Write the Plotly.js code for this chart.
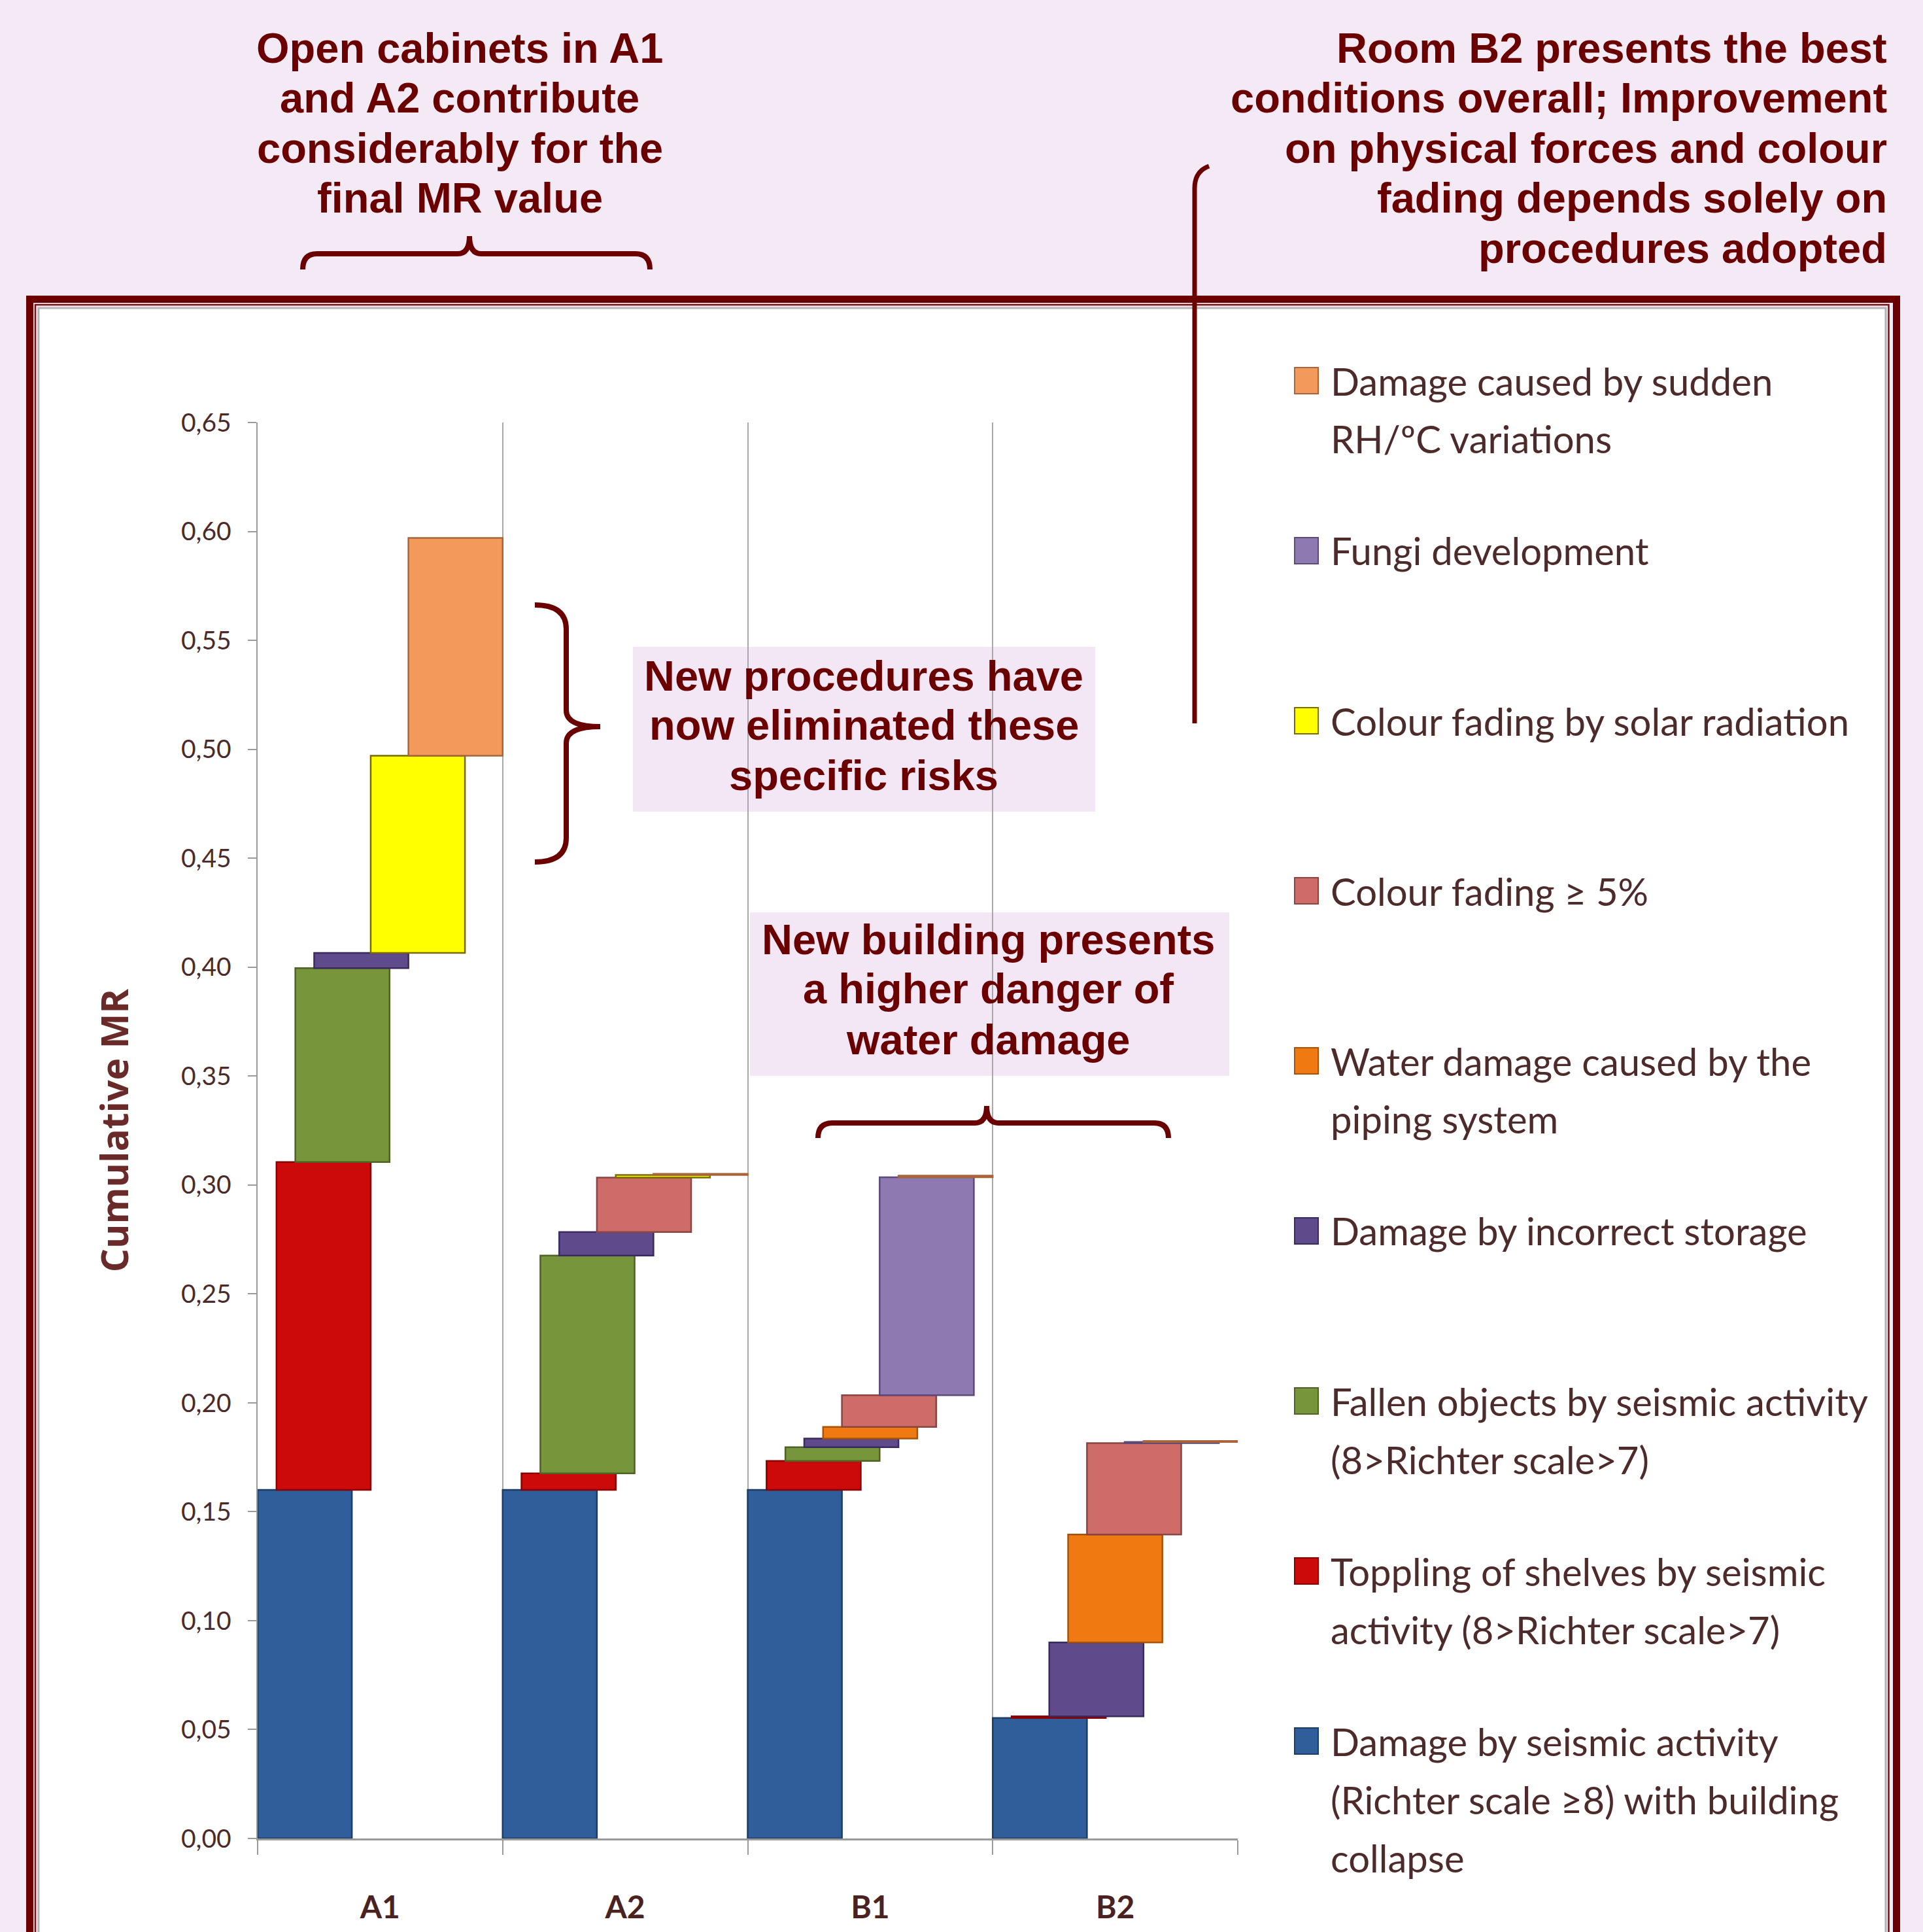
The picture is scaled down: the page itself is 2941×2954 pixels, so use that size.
<!DOCTYPE html>
<html>
<head>
<meta charset="utf-8">
<script src="https://cdn.plot.ly/plotly-3.0.1.min.js"></script>
<style>
html,body{margin:0;padding:0;background:#f4eaf5;}
#chart{width:2941px;height:2954px;}
</style>
</head>
<body>
<div id="chart"></div>
<script>
// ---------------- DATA ----------------
const categories = ['A1', 'A2', 'B1', 'B2'];

// increments of MR per risk, stacked in this order (bottom to top)
const seismicCollapse  = [0.1600, 0.1600, 0.1600, 0.0553];
const topplingShelves  = [0.1505, 0.0076, 0.0133, 0.0008];
const fallenObjects    = [0.0890, 0.1000, 0.0063, 0.0000];
const incorrectStorage = [0.0070, 0.0108, 0.0040, 0.0339];
const waterPiping      = [0.0000, 0.0000, 0.0053, 0.0495];
const colourFading5    = [0.0000, 0.0250, 0.0146, 0.0420];
const solarFading      = [0.0905, 0.0012, 0.0000, 0.0000];
const fungiDevelopment = [0.0000, 0.0000, 0.1000, 0.0005];
const rhVariations     = [0.1000, 0.0005, 0.0008, 0.0005];

const seriesNames = [
  'Damage by seismic activity<br>(Richter scale ≥8) with building<br>collapse',
  'Toppling of shelves by seismic<br>activity (8>Richter scale>7)',
  'Fallen objects by seismic activity<br>(8>Richter scale>7)',
  'Damage by incorrect storage',
  'Water damage caused by the<br>piping system',
  'Colour fading ≥ 5%',
  'Colour fading by solar radiation',
  'Fungi development',
  'Damage caused by sudden<br>RH/ºC variations'
];
const seriesValues = [seismicCollapse, topplingShelves, fallenObjects, incorrectStorage,
  waterPiping, colourFading5, solarFading, fungiDevelopment, rhVariations];

const yTitle = 'Cumulative MR';
const noteOpenCabinets = ['Open cabinets in A1', 'and A2 contribute', 'considerably for the', 'final MR value'];
const noteRoomB2 = ['Room B2 presents the best', 'conditions overall; Improvement',
  'on physical forces and colour', 'fading depends solely on', 'procedures adopted'];
const noteNewProcedures = ['New procedures have', 'now eliminated these', 'specific risks'];
const noteNewBuilding = ['New building presents', 'a higher danger of', 'water damage'];

// ---------------- STYLE ----------------
const fills = ['#2f5e9b', '#cc0a0a', '#77953b', '#5f4a8c', '#f07a12', '#cd6c69', '#ffff00', '#8e79b1', '#f29a5c'];
const edges = ['#1d3d66', '#8a0000', '#4d6224', '#3a2b5e', '#a65208', '#8a4442', '#7a6a00', '#5c4b7a', '#a8653a'];

const BODY = 'Lato, "Open Sans", sans-serif';
const NOTE = '"Liberation Sans", Arial, sans-serif';
const DARKRED = '#6b0000';
const W = 2941, H = 2954;
const plotL = 394, plotR = 1893, plotT = 646, plotB = 2811;
const nSlots = 13, barSlots = 5;

const px = x => (x - plotL) / (plotR - plotL);
const py = y => (plotB - y) / (plotB - plotT);
function pathPx(str) {
  const toks = str.trim().split(/\s+/);
  let out = [], isX = true;
  toks.forEach(t => {
    if (/^[A-Za-z]$/.test(t)) { out.push(t); isX = true; }
    else { const v = parseFloat(t); out.push(isX ? px(v).toFixed(6) : py(v).toFixed(6)); isX = !isX; }
  });
  return out.join(' ');
}

// ---------------- TRACES ----------------
const running = categories.map(() => 0);
const traces = seriesValues.map((vals, i) => {
  const b = running.slice();
  vals.forEach((v, k) => { running[k] += v; });
  return {
    type: 'bar',
    name: seriesNames[i].replace(/<br>/g, ' '),
    x: categories,
    y: vals.map(v => (v > 0 ? v : null)),
    base: b,
    offset: -0.5 + i / nSlots,
    width: barSlots / nSlots,
    marker: { color: fills[i], line: { color: edges[i], width: 2.5 } },
    showlegend: false,
    hoverinfo: 'name+y'
  };
});

// ---------------- SHAPES ----------------
const shapes = [];
// frame
shapes.push({ type: 'rect', xref: 'paper', yref: 'paper', layer: 'below',
  x0: px(59), x1: px(2884), y0: py(471), y1: py(3200),
  fillcolor: '#ffffff', line: { color: '#b4b4b4', width: 3 } });
shapes.push({ type: 'rect', xref: 'paper', yref: 'paper', layer: 'below',
  x0: px(54), x1: px(2888.5), y0: py(466), y1: py(3200),
  fillcolor: 'rgba(0,0,0,0)', line: { color: '#7a1010', width: 2.5 } });
shapes.push({ type: 'rect', xref: 'paper', yref: 'paper', layer: 'below',
  x0: px(45.5), x1: px(2900.5), y0: py(457.5), y1: py(3200),
  fillcolor: 'rgba(0,0,0,0)', line: { color: DARKRED, width: 11 } });
// note boxes
shapes.push({ type: 'rect', xref: 'paper', yref: 'paper', layer: 'below',
  x0: px(968), x1: px(1675), y0: py(989), y1: py(1241),
  fillcolor: '#f3e6f5', line: { width: 0 } });
shapes.push({ type: 'rect', xref: 'paper', yref: 'paper', layer: 'below',
  x0: px(1147), x1: px(1880), y0: py(1395), y1: py(1645),
  fillcolor: '#f3e6f5', line: { width: 0 } });
// braces
const braceLine = { color: DARKRED, width: 8 };
shapes.push({ type: 'path', xref: 'paper', yref: 'paper', layer: 'above', line: braceLine,
  path: pathPx('M 463 412 Q 463 388 485 388 L 700 388 Q 718 388 718 361 Q 718 388 736 388 L 972 388 Q 994 388 994 412') });
shapes.push({ type: 'path', xref: 'paper', yref: 'paper', layer: 'above', line: braceLine,
  path: pathPx('M 1251 1740 Q 1251 1717 1273 1717 L 1491 1717 Q 1509 1717 1509 1691 Q 1509 1717 1527 1717 L 1765 1717 Q 1787 1717 1787 1740') });
shapes.push({ type: 'path', xref: 'paper', yref: 'paper', layer: 'above', line: braceLine,
  path: pathPx('M 818 925 Q 866 925 866 962 L 866 1086 Q 866 1111 918 1111 Q 866 1111 866 1136 L 866 1281 Q 866 1318 818 1318') });
shapes.push({ type: 'path', xref: 'paper', yref: 'paper', layer: 'above', line: { color: DARKRED, width: 7 },
  path: pathPx('M 1827 1106 L 1827 288 Q 1827 262 1849 254') });

// legend (symbols + labels, top to bottom in reverse stacking order)
const legendFirst = 582, legendStep = 260, legendLine = 89, legendFs = 58;
const annotations = [];
for (let k = 0; k < seriesNames.length; k++) {
  const i = seriesNames.length - 1 - k;
  const c = legendFirst + k * legendStep;
  shapes.push({ type: 'rect', xref: 'paper', yref: 'paper', layer: 'above',
    x0: px(1980), x1: px(2016), y0: py(c - 20), y1: py(c + 20),
    fillcolor: fills[i], line: { color: edges[i], width: 2 } });
  seriesNames[i].split('<br>').forEach((t, j) => {
    annotations.push({ xref: 'paper', yref: 'paper', x: px(2033), y: py(c + j * legendLine),
      xanchor: 'left', yanchor: 'middle', align: 'left', showarrow: false,
      text: t, font: { family: BODY, size: legendFs, color: '#4d2b2b' } });
  });
}

// notes
const noteFont = { family: NOTE, size: 65, color: DARKRED, weight: 'bold' };
function addNote(lines, x, ys, anchor) {
  lines.forEach((t, j) => annotations.push({ xref: 'paper', yref: 'paper', x: px(x), y: py(ys[j]),
    xanchor: anchor, yanchor: 'middle', align: anchor === 'right' ? 'right' : 'center',
    showarrow: false, text: t, font: noteFont }));
}
addNote(noteOpenCabinets, 703, [73, 150, 227, 303], 'center');
addNote(noteRoomB2, 2888, [73, 150, 227, 303, 380], 'right');
addNote(noteNewProcedures, 1321, [1033, 1108, 1185], 'center');
addNote(noteNewBuilding, 1511, [1436, 1511, 1589], 'center');

// ---------------- LAYOUT ----------------
const layout = {
  width: W, height: H,
  autosize: false,
  paper_bgcolor: '#f4eaf5',
  plot_bgcolor: 'rgba(0,0,0,0)',
  margin: { l: plotL, r: W - plotR, t: plotT, b: H - plotB, pad: 0 },
  barmode: 'overlay',
  separators: ',.',
  showlegend: false,
  xaxis: {
    type: 'category',
    range: [-0.5, 3.5],
    tickson: 'boundaries',
    ticks: 'outside', ticklen: 22, tickwidth: 2, tickcolor: '#9a9a9a',
    showline: true, linecolor: '#9a9a9a', linewidth: 2.5,
    showgrid: true, gridcolor: '#a8a8a8', gridwidth: 2,
    zeroline: false,
    ticklabelstandoff: 62,
    tickfont: { family: BODY, size: 48, color: '#4a2222', weight: 'bold' },
    fixedrange: true
  },
  yaxis: {
    range: [0, 0.65],
    tick0: 0, dtick: 0.05, tickformat: '.2f',
    ticks: 'outside', ticklen: 13, tickwidth: 2, tickcolor: '#9a9a9a',
    showline: true, linecolor: '#9a9a9a', linewidth: 2.5,
    showgrid: false, zeroline: false,
    ticklabelstandoff: 17,
    tickfont: { family: BODY, size: 39, color: '#4a2a2a' },
    title: { text: yTitle, standoff: 62,
      font: { family: '"Open Sans", sans-serif', size: 57, color: '#6b2a2a', weight: 'bold' } },
    fixedrange: true
  },
  shapes: shapes,
  annotations: annotations
};

Plotly.newPlot('chart', traces, layout, { displayModeBar: false, staticPlot: true });
</script>
</body>
</html>
